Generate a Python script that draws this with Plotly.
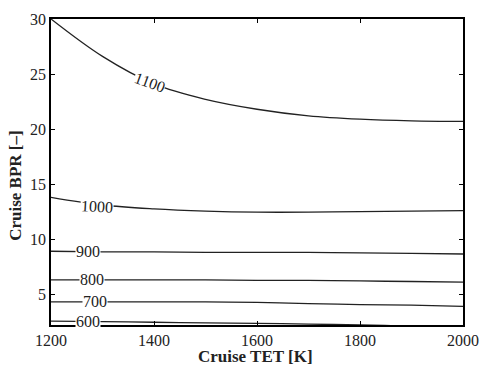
import plotly.graph_objects as go

tet = [1200, 1300, 1400, 1500, 1600, 1700, 1800, 1900, 2000]
bpr_1100 = [30.0, 26.6, 24.1, 22.7, 21.8, 21.2, 20.9, 20.75, 20.7]
bpr_1000 = [13.8, 13.1, 12.75, 12.55, 12.45, 12.45, 12.5, 12.55, 12.6]
bpr_900 = [8.9, 8.85, 8.85, 8.8, 8.8, 8.8, 8.75, 8.7, 8.65]
bpr_800 = [6.3, 6.3, 6.3, 6.3, 6.25, 6.25, 6.2, 6.15, 6.1]
bpr_700 = [4.3, 4.3, 4.3, 4.3, 4.25, 4.15, 4.05, 4.0, 3.9]
bpr_600 = [2.55, 2.5, 2.45, 2.4, 2.35, 2.28, 2.2, 2.1, 2.0]

levels = ["1100", "1000", "900", "800", "700", "600"]
series = [bpr_1100, bpr_1000, bpr_900, bpr_800, bpr_700, bpr_600]
label_x = [1392, 1289, 1272, 1279, 1285, 1272]
label_y = [24.2, 13.0, 8.85, 6.3, 4.3, 2.5]
label_angle = [20, 3, 0, 0, 0, 0]

xticks = [1200, 1400, 1600, 1800, 2000]
yticks = [5, 10, 15, 20, 25, 30]

serif = "Liberation Serif, Times New Roman, serif"

fig = go.Figure()
for lev, ys in zip(levels, series):
    fig.add_trace(go.Scatter(x=tet, y=ys, mode="lines", line=dict(color="#222", width=1.3, shape="spline"),
                             showlegend=False, hoverinfo="skip", name=lev))

for lev, lx, ly, ang in zip(levels, label_x, label_y, label_angle):
    fig.add_annotation(x=lx, y=ly, text=lev, showarrow=False, textangle=ang,
                       font=dict(family=serif, size=16, color="#222"),
                       bgcolor="white", borderpad=0)

fig.add_annotation(xref="paper", yref="paper", x=-0.088, y=0.454, text="<b>Cruise BPR [–]</b>",
                   textangle=-90, showarrow=False, xanchor="center", yanchor="middle",
                   font=dict(family=serif, size=17, color="#222"))
fig.add_annotation(xref="paper", yref="paper", x=0.497, y=-0.102, text="<b>Cruise TET [K]</b>",
                   showarrow=False, xanchor="center", yanchor="middle",
                   font=dict(family=serif, size=17, color="#222"))

axis_common = dict(showline=True, linecolor="black", linewidth=1.5, mirror="ticks",
                   ticks="inside", ticklen=4, tickcolor="black", showgrid=False, zeroline=False,
                   automargin=False, tickfont=dict(family=serif, size=16, color="#222"))

fig.update_xaxes(range=[1200, 2000], tickvals=xticks, **axis_common)
fig.update_yaxes(range=[2.2, 30], tickvals=yticks, **axis_common)

fig.update_layout(width=483, height=365, margin=dict(l=51, r=20, t=19, b=40),
                  font=dict(family=serif),
                  plot_bgcolor="white", paper_bgcolor="white")
fig.write_html("out.html", config={"displayModeBar": False},
               post_script="document.body.style.margin='0';document.body.style.overflow='hidden';")
